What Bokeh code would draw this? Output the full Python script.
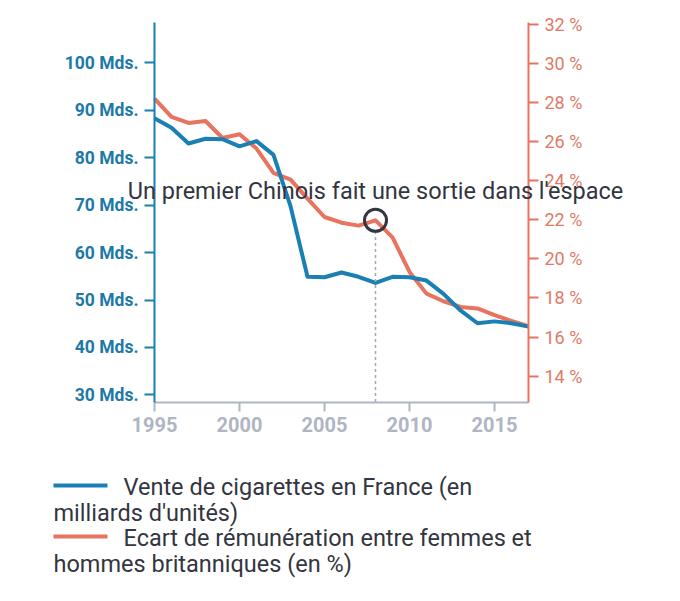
from bokeh.plotting import figure
from bokeh.models import Range1d, LinearAxis, FixedTicker, PrintfTickFormatter, Label
from bokeh.embed import file_html
from bokeh.resources import INLINE

years = list(range(1995, 2018))
cigarettes = [88.3, 86.3, 83.0, 84.0, 83.9, 82.4, 83.5, 80.6, 69.8, 54.9, 54.8, 55.8,
              54.9, 53.6, 54.9, 54.8, 54.1, 51.3, 47.8, 45.1, 45.5, 45.1, 44.4]
pay_gap = [28.2, 27.26, 26.95, 27.05, 26.18, 26.37, 25.64, 24.4, 24.05, 23.08, 22.14, 21.85,
           21.7, 21.97, 21.1, 19.33, 18.22, 17.83, 17.54, 17.46, 17.12, 16.82, 16.55]
left_ticks = [30, 40, 50, 60, 70, 80, 90, 100]
right_ticks = [14, 16, 18, 20, 22, 24, 26, 28, 30, 32]
x_ticks = [1995, 2000, 2005, 2010, 2015]
event_year = 2008
event_text = "Un premier Chinois fait une sortie dans l'espace"
legend_labels = [["Vente de cigarettes en France (en", "milliards d'unités)"],
                 ["Ecart de rémunération entre femmes et", "hommes britanniques (en %)"]]

BLUE = "#1a7fb2"
RED = "#e8735f"
DARK = "#33353f"
GREY = "#b0b5c3"
FONT = "Roboto"

# ---- layout geometry (page pixels) ----
OFF = 0          # observed origin of the figure on the photographed page
W, H = 664, 585  # figure size
X0_PX, X1_PX = 154, 528     # plot area left / right
Y0_PX, Y1_PX = 402, 22      # plot area bottom / top
L_LO, L_HI = 28.4, 108.5    # left axis domain
R_LO, R_HI = 12.65, 32.09   # right axis domain
X_LO, X_HI = years[0], years[-1]

def span(lo, hi, p_lo, p_hi, start_px, end_px):
    k = (hi - lo) / (p_hi - p_lo)
    return lo + (start_px - p_lo) * k, lo + (end_px - p_lo) * k

xs, xe = span(X_LO, X_HI, X0_PX, X1_PX, OFF, OFF + W)
ls, le = span(L_LO, L_HI, Y0_PX, Y1_PX, OFF + H, OFF)
rs, re = span(R_LO, R_HI, Y0_PX, Y1_PX, OFF + H, OFF)

p = figure(width=W, height=H, output_backend="svg", toolbar_location=None,
           x_range=Range1d(xs, xe), y_range=Range1d(ls, le), min_border=0,
           x_axis_location=None, y_axis_location=None)
p.extra_y_ranges = {"right": Range1d(rs, re), "py": Range1d(OFF + H, OFF)}
p.extra_x_ranges = {"px": Range1d(OFF, OFF + W)}
p.outline_line_color = None
p.grid.visible = False
p.background_fill_color = "white"
p.border_fill_color = "white"

# x axis
xa = LinearAxis(fixed_location=L_LO, bounds=(X_LO, X_HI))
xa.ticker = FixedTicker(ticks=x_ticks)
xa.axis_line_color = GREY
xa.axis_line_width = 2
xa.major_tick_line_color = GREY
xa.major_tick_line_width = 2
xa.major_tick_out = 9
xa.major_tick_in = 0
xa.minor_tick_line_color = None
xa.major_label_text_color = GREY
xa.major_label_text_font = FONT
xa.major_label_text_font_style = "bold"
xa.major_label_text_font_size = "20px"
xa.major_label_standoff = 5
p.add_layout(xa, "below")

# left axis
ya = LinearAxis(fixed_location=X_LO, bounds=(L_LO, L_HI))
ya.ticker = FixedTicker(ticks=left_ticks)
ya.formatter = PrintfTickFormatter(format="%d Mds.")
ya.axis_line_color = BLUE
ya.axis_line_width = 2
ya.major_tick_line_color = BLUE
ya.major_tick_line_width = 2
ya.major_tick_out = 10
ya.major_tick_in = 0
ya.minor_tick_line_color = None
ya.major_label_text_color = "#1d79a6"
ya.major_label_text_font = FONT
ya.major_label_text_font_style = "bold"
ya.major_label_text_font_size = "17.5px"
ya.major_label_standoff = 6
p.add_layout(ya, "left")

# right axis
ra = LinearAxis(y_range_name="right", fixed_location=X_HI, bounds=(R_LO, R_HI))
ra.ticker = FixedTicker(ticks=right_ticks)
ra.formatter = PrintfTickFormatter(format="%d %%")
ra.axis_line_color = RED
ra.axis_line_width = 2
ra.major_tick_line_color = RED
ra.major_tick_line_width = 2
ra.major_tick_out = 10
ra.major_tick_in = 0
ra.minor_tick_line_color = None
ra.major_label_text_color = "#e07a66"
ra.major_label_text_font = FONT
ra.major_label_text_font_size = "18px"
ra.major_label_standoff = 6
p.add_layout(ra, "right")

# data lines
p.line(years, pay_gap, y_range_name="right", line_color=RED, line_width=4, line_join="round")
p.line(years, cigarettes, line_color=BLUE, line_width=4, line_join="round")

# event marker
gi = years.index(event_year)
p.segment(x0=[event_year], y0=[pay_gap[gi] - 0.55], x1=[event_year], y1=[R_LO],
          y_range_name="right", line_color="#a3a7b4", line_width=1.5, line_dash="3 3")
p.scatter([event_year], [pay_gap[gi]], y_range_name="right", size=22, marker="circle",
          fill_color=None, line_color=DARK, line_width=3)
p.add_layout(Label(x=event_year, y=190, y_range_name="py", text=event_text,
                   text_align="center", text_baseline="middle", text_font=FONT,
                   text_font_size="23.5px", text_color=DARK))

# legend (page-pixel coordinates)
for i, (col, lines) in enumerate(zip([BLUE, RED], legend_labels)):
    y0 = 486 + i * 51
    p.line([53, 107], [y0 - 1, y0 - 1], x_range_name="px", y_range_name="py",
           line_color=col, line_width=4)
    p.add_layout(Label(x=123, y=y0, x_range_name="px", y_range_name="py", text=lines[0],
                       text_align="left", text_baseline="middle", text_font=FONT,
                       text_font_size="23.5px", text_color=DARK))
    p.add_layout(Label(x=53, y=y0 + 26, x_range_name="px", y_range_name="py", text=lines[1],
                       text_align="left", text_baseline="middle", text_font=FONT,
                       text_font_size="23.5px", text_color=DARK))

open("out.html", "w").write(file_html(p, INLINE))
